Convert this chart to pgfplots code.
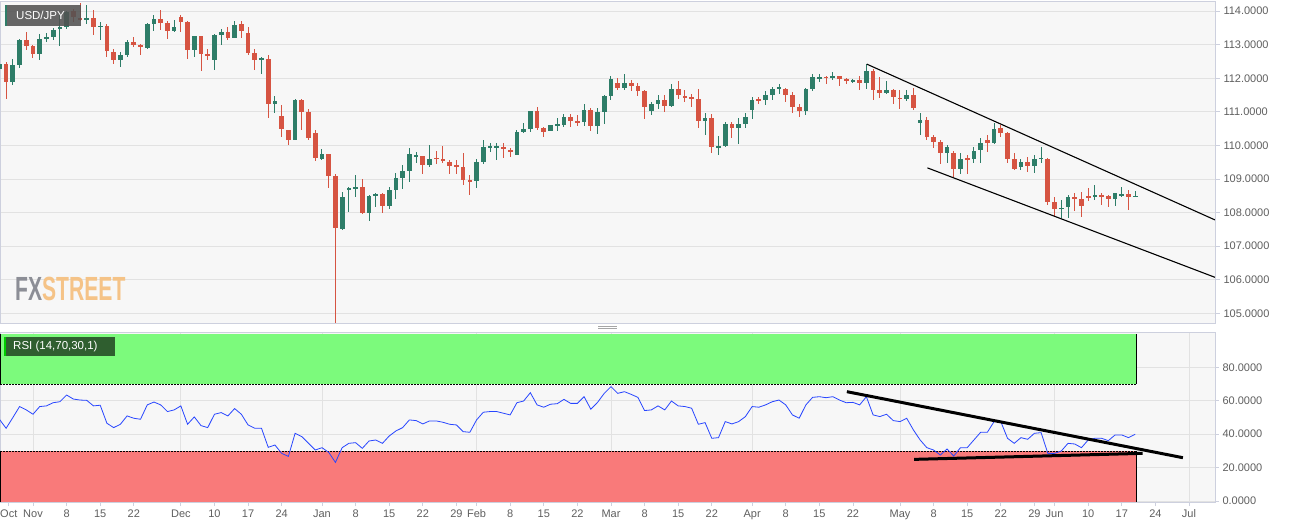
\documentclass[border=0pt]{standalone}
\usepackage{fontspec}
\setmainfont{Liberation Sans}
\usepackage{pgfplots}
\pgfplotsset{compat=1.18}
\usepackage{pgfplotstable}

\definecolor{upc}{RGB}{46,125,104}
\definecolor{dnc}{RGB}{214,84,66}
\definecolor{bgc}{RGB}{247,247,247}
\definecolor{gridc}{RGB}{226,226,226}
\definecolor{axc}{RGB}{205,208,222}
\definecolor{tickc}{RGB}{95,95,95}
\definecolor{rsigreen}{RGB}{124,250,124}
\definecolor{rsired}{RGB}{249,122,122}
\definecolor{rsiline}{RGB}{40,70,255}
\definecolor{rsibox}{RGB}{47,94,47}
\definecolor{fxgray}{RGB}{140,142,150}
\definecolor{fxorange}{RGB}{245,195,135}

% green (up) candles: index o h l c
\pgfplotstableread{
i o h l c
-5 112.28 112.68 111.84 112.43
-3 111.89 112.58 111.79 112.38
-2 112.38 113.18 112.32 113.13
1 112.73 113.33 112.55 113.18
2 113.18 113.35 113.08 113.23
3 113.23 113.50 113.13 113.45
4 113.47 113.87 112.95 113.52
5 113.52 114.00 113.47 113.97
8 113.76 114.17 113.62 113.78
10 113.53 113.67 113.13 113.57
13 112.55 112.78 112.33 112.68
14 112.68 113.13 112.63 113.08
17 112.90 113.64 112.88 113.62
18 113.62 113.87 113.42 113.77
21 113.41 113.72 113.38 113.52
24 112.85 113.25 112.63 113.25
27 112.55 113.33 112.26 113.28
28 113.28 113.48 112.98 113.38
30 113.20 113.70 113.20 113.60
34 112.57 112.63 112.12 112.59
36 111.22 111.46 110.95 111.32
39 110.17 111.39 110.15 111.36
43 109.61 109.88 109.58 109.74
46 107.51 108.62 107.47 108.47
47 108.67 108.77 108.02 108.72
48 108.72 109.11 108.45 108.77
50 108.00 108.52 107.75 108.49
51 108.50 108.59 108.15 108.55
53 108.20 108.77 108.12 108.67
54 108.67 109.19 108.39 109.02
55 109.02 109.43 108.69 109.23
56 109.23 109.91 108.92 109.74
57 109.68 109.79 109.48 109.70
59 109.42 110.00 109.36 109.61
66 108.93 109.59 108.72 109.51
67 109.51 110.17 109.44 109.94
68 109.94 110.08 109.79 109.96
69 109.94 110.06 109.56 109.96
72 109.71 110.45 109.71 110.39
73 110.40 110.67 110.37 110.48
74 110.48 111.03 110.40 111.01
77 110.43 110.60 110.43 110.60
78 110.59 110.83 110.43 110.63
79 110.61 110.95 110.54 110.85
82 110.70 111.24 110.57 111.05
84 110.57 111.10 110.35 111.00
85 111.00 111.51 110.65 111.46
86 111.46 112.07 111.34 111.97
88 111.71 112.14 111.64 111.87
92 111.03 111.29 110.90 111.22
93 111.22 111.49 111.07 111.36
95 111.17 111.84 111.15 111.69
100 110.72 110.97 110.30 110.82
102 109.95 110.27 109.71 109.98
103 109.98 110.70 109.94 110.63
105 110.52 110.83 110.04 110.63
106 110.63 110.95 110.52 110.85
107 111.05 111.44 110.80 111.34
109 111.34 111.61 111.20 111.51
110 111.51 111.74 111.34 111.68
111 111.69 111.84 111.54 111.72
115 111.02 111.71 110.92 111.68
116 111.68 112.14 111.61 112.03
117 111.99 112.12 111.89 112.04
119 112.02 112.19 111.94 112.06
122 111.90 111.99 111.86 111.94
124 111.87 112.41 111.69 112.21
127 111.56 111.91 111.52 111.66
130 111.37 111.66 111.32 111.49
132 110.67 110.97 110.30 110.75
136 109.78 110.01 109.48 109.94
138 109.31 109.78 109.14 109.61
140 109.61 109.96 109.48 109.84
141 109.86 110.21 109.48 110.08
143 110.08 110.68 110.04 110.50
147 109.35 109.59 109.27 109.50
149 109.40 109.72 109.17 109.60
150 109.60 109.94 109.47 109.63
153 108.10 108.36 107.83 108.15
154 108.15 108.52 107.83 108.47
158 108.47 108.82 108.37 108.52
161 108.40 108.59 108.18 108.57
162 108.52 108.75 108.47 108.55
164 108.47 108.64 108.45 108.50
}\upcandles

% red (down) candles: index o h l c
\pgfplotstableread{
i o h l c
-4 112.43 112.48 111.39 111.89
-1 113.13 113.38 112.83 112.96
0 112.95 113.00 112.61 112.73
6 114.00 114.07 113.67 113.82
7 113.78 114.24 113.72 113.76
9 113.78 114.02 113.30 113.52
11 113.57 113.62 112.63 112.81
12 112.78 112.88 112.43 112.55
15 113.08 113.23 112.93 112.98
16 112.98 113.03 112.68 112.95
19 113.77 114.04 113.44 113.64
20 113.64 113.72 113.18 113.41
22 113.82 113.87 113.38 113.67
23 113.67 113.70 112.58 112.85
25 113.25 113.25 112.22 112.71
26 112.73 112.88 112.55 112.65
29 113.38 113.54 113.13 113.20
31 113.60 113.70 113.21 113.40
32 113.35 113.52 112.68 112.75
33 112.75 112.88 112.26 112.55
35 112.57 112.68 110.83 111.22
37 110.87 111.20 110.25 110.50
38 110.47 110.47 110.00 110.17
40 111.34 111.39 110.47 111.00
41 111.00 111.07 110.17 110.23
42 110.37 110.45 109.54 109.61
44 109.74 109.74 108.72 109.08
45 109.08 109.14 104.72 107.53
49 108.77 109.01 107.97 108.00
52 108.54 108.59 108.00 108.20
58 109.69 109.69 109.14 109.42
60 109.63 109.83 109.44 109.60
61 109.60 109.98 109.48 109.52
62 109.52 109.58 109.16 109.39
63 109.40 109.56 109.14 109.38
64 109.36 109.76 108.82 108.97
65 108.97 109.11 108.52 108.93
70 109.96 110.08 109.61 109.88
71 109.87 109.91 109.64 109.81
75 111.01 111.13 110.45 110.51
76 110.52 110.55 110.25 110.41
80 110.85 110.93 110.55 110.74
81 110.72 110.92 110.57 110.68
83 111.05 111.10 110.42 110.57
87 111.87 112.01 111.64 111.71
89 111.86 111.94 111.62 111.76
90 111.76 111.86 111.47 111.62
91 111.62 111.66 110.78 111.15
94 111.36 111.49 111.00 111.17
96 111.69 111.91 111.37 111.49
97 111.47 111.64 111.29 111.44
98 111.44 111.54 111.15 111.41
99 111.39 111.69 110.53 110.72
101 110.82 110.92 109.76 109.94
104 110.63 110.70 110.23 110.52
108 111.38 111.44 111.24 111.34
112 111.69 111.72 111.29 111.49
113 111.49 111.59 110.97 111.15
114 111.15 111.24 110.85 111.02
118 112.04 112.06 111.84 112.01
120 112.06 112.06 111.76 111.99
121 111.99 112.02 111.84 111.91
123 111.94 112.06 111.65 111.87
125 112.21 112.26 111.34 111.64
126 111.64 112.04 111.42 111.57
128 111.66 111.69 111.24 111.44
129 111.42 111.64 111.07 111.39
131 111.51 111.72 111.05 111.10
133 110.77 110.85 110.17 110.25
134 110.25 110.32 109.91 110.10
135 110.09 110.15 109.46 109.78
137 109.78 109.83 109.06 109.31
139 109.61 109.71 109.16 109.58
142 110.15 110.30 109.81 110.08
144 110.51 110.61 110.24 110.38
145 110.36 110.41 109.47 109.61
146 109.61 109.76 109.27 109.30
148 109.50 109.64 109.22 109.40
151 109.61 109.63 108.23 108.30
152 108.30 108.47 107.88 108.10
155 108.47 108.59 108.05 108.41
156 108.40 108.62 107.88 108.21
157 108.49 108.72 108.33 108.45
159 108.52 108.59 108.23 108.49
160 108.50 108.52 108.16 108.40
163 108.55 108.67 108.08 108.45
}\dncandles

% RSI(14)
\pgfplotstableread{
i r
-5 48.9
-4 43.5
-3 49.9
-2 56.5
-1 54.5
0 51.9
1 56.5
2 56.9
3 58.8
4 59.4
5 63.4
6 61.0
7 60.4
8 60.2
9 56.9
10 57.3
11 46.5
12 43.9
13 45.9
14 50.9
15 49.5
16 48.9
17 57.5
18 59.2
19 57.5
20 53.5
21 54.5
22 56.9
23 45.9
24 50.3
25 45.1
26 43.9
27 51.9
28 52.9
29 50.9
30 55.3
31 51.9
32 45.5
33 43.5
34 43.5
35 32.1
36 33.5
37 28.5
38 26.7
39 40.5
40 38.5
41 34.5
42 30.5
43 31.9
44 29.1
45 23.1
46 31.9
47 34.5
48 34.9
49 31.5
50 35.9
51 36.5
52 34.5
53 38.9
54 41.9
55 43.9
56 48.5
57 48.1
58 46.1
59 47.9
60 47.9
61 47.1
62 45.9
63 45.5
64 41.5
65 41.1
66 48.5
67 53.1
68 53.5
69 53.5
70 52.5
71 51.5
72 58.8
73 59.8
74 64.8
75 57.5
76 56.1
77 57.9
78 58.2
79 60.8
80 58.4
81 58.4
82 62.4
83 54.9
84 59.0
85 64.4
86 68.4
87 64.4
88 65.4
89 63.8
90 62.0
91 54.1
92 54.5
93 56.9
94 54.5
95 59.8
96 56.9
97 56.5
98 55.5
99 45.9
100 46.9
101 37.5
102 37.9
103 47.5
104 46.1
105 47.5
106 50.5
107 56.5
108 56.1
109 57.5
110 59.4
111 60.4
112 57.5
113 51.5
114 49.5
115 57.5
116 62.0
117 62.4
118 61.8
119 62.4
120 60.4
121 58.8
122 59.0
123 57.5
124 62.4
125 51.5
126 50.5
127 51.9
128 48.1
129 47.5
130 49.5
131 42.5
132 36.5
133 31.9
134 30.5
135 27.5
136 31.1
137 26.9
138 31.9
139 31.9
140 36.5
141 41.1
142 41.1
143 47.5
144 47.5
145 37.5
146 34.5
147 37.9
148 36.9
149 40.5
150 40.9
151 28.5
152 28.5
153 29.9
154 34.5
155 34.1
156 31.9
157 36.5
158 37.5
159 37.5
160 36.1
161 39.5
162 39.5
163 37.9
164 39.9
}\rsitable

\pgfplotsset{
  panel/.style={
    scale only axis, anchor=south west, width=1215pt,
    xmin=-4.91, xmax=175.87,
    axis background/.style={fill=bgc},
    axis line style={draw=axc, line width=0.8pt},
    minor xtick={0,22,43,66,86,107,129,152,172},
    xminorgrids, minor x grid style={gridc, line width=0.8pt},
    minor tick length=0pt,
    ymajorgrids, major grid style={gridc, line width=0.8pt},
    ytick pos=right, yticklabel pos=right,
    tick align=outside, major tick length=5pt,
    tick style={axc, line width=0.8pt},
    yticklabel style={font=\fontsize{11}{13}\selectfont, text=tickc, anchor=west},
    xticklabel style={font=\fontsize{11}{13}\selectfont, text=tickc},
  },
  wick/.style={draw=none, mark=none, forget plot,
    error bars/.cd, y dir=both, y explicit, error mark=none,
    error bar style={draw=#1, line width=1pt}},
  body/.style={draw=none, mark=none, forget plot,
    error bars/.cd, y dir=both, y explicit, error mark=none,
    error bar style={draw=#1, line width=4.7pt}},
}

\begin{document}
\begin{tikzpicture}
\path[use as bounding box, fill=white] (0pt,0pt) rectangle (1299pt,528pt);

% ---------- price panel ----------
\begin{axis}[panel,
  at={(0pt,205pt)}, height=322pt,
  ymin=104.71, ymax=114.30,
  xtick=\empty,
  ytick={105,106,107,108,109,110,111,112,113,114},
  yticklabels={105.0000,106.0000,107.0000,108.0000,109.0000,110.0000,111.0000,112.0000,113.0000,114.0000},
]
\addplot[wick=upc] table[x=i, y expr=(\thisrow{h}+\thisrow{l})/2, y error expr=(\thisrow{h}-\thisrow{l})/2] {\upcandles};
\addplot[wick=dnc] table[x=i, y expr=(\thisrow{h}+\thisrow{l})/2, y error expr=(\thisrow{h}-\thisrow{l})/2] {\dncandles};
\addplot[body=upc] table[x=i, y expr=(\thisrow{o}+\thisrow{c})/2, y error expr={max(abs(\thisrow{c}-\thisrow{o})/2,0.02)}] {\upcandles};
\addplot[body=dnc] table[x=i, y expr=(\thisrow{o}+\thisrow{c})/2, y error expr={max(abs(\thisrow{c}-\thisrow{o})/2,0.02)}] {\dncandles};
% falling channel
\addplot[black, line width=1.1pt] coordinates {(124.06,112.42) (175.87,107.78)};
\addplot[black, line width=1.1pt] coordinates {(133.08,109.33) (175.87,106.07)};
\end{axis}

% ---------- RSI panel ----------
\begin{axis}[panel,
  at={(0pt,26pt)}, height=170pt,
  ymin=-0.6, ymax=101.1,
  ytick={0,20,40,60,80},
  yticklabels={0.0000,20.0000,40.0000,60.0000,80.0000},
  xtick pos=bottom, major tick length=4pt,
  xtick={-3.6,0,5,10,15,22,27,32,37,43,48,53,58,63,66,71,76,81,86,91,96,101,107,112,117,122,129,134,139,144,149,152,157,162,167,172},
  xticklabels={Oct,Nov,8,15,22,Dec,10,17,24,Jan,8,15,22,29,Feb,8,15,22,Mar,8,15,22,Apr,8,15,22,May,8,15,22,29,Jun,10,17,24,Jul},
]
\addplot[fill=rsigreen, draw=none] coordinates {(-4.91,70) (164.1,70) (164.1,99.8) (-4.91,99.8)} --cycle;
\addplot[fill=rsired, draw=none] coordinates {(-4.91,-0.6) (164.1,-0.6) (164.1,30) (-4.91,30)} --cycle;
\addplot[black, line width=0.7pt] coordinates {(-4.85,99.8) (-4.85,70)};
\addplot[black, line width=0.7pt] coordinates {(164.1,99.8) (164.1,70)};
\addplot[black, line width=0.7pt] coordinates {(-4.85,30) (-4.85,-0.6)};
\addplot[black, line width=0.7pt] coordinates {(164.1,30) (164.1,-0.6)};
\addplot[black, line width=0.7pt, dash pattern=on 2pt off 1pt] coordinates {(-4.91,70) (164.1,70)};
\addplot[black, line width=0.7pt, dash pattern=on 2pt off 1pt] coordinates {(-4.91,30) (164.1,30)};
\addplot[rsiline, line width=0.8pt] table[x=i, y=r] {\rsitable};
\addplot[black, line width=3pt] coordinates {(121.1,65.4) (171.1,25.9)};
\addplot[black, line width=3pt] coordinates {(131.1,24.9) (165.1,28.5)};
\end{axis}

% labels and decorations
\fill[black!68, opacity=0.88] (5pt,523pt) rectangle (81pt,502pt);
\fill[upc] (5pt,523pt) rectangle (7pt,502pt);
\node[anchor=west, inner sep=0pt, text=white, font=\fontsize{11.5}{13}\selectfont] at (16pt,512.5pt) {USD/JPY};

\fill[rsibox] (4pt,191pt) rectangle (115pt,172pt);
\fill[green!80!black] (4pt,191pt) rectangle (6pt,172pt);
\node[anchor=west, inner sep=0pt, text=white, font=\fontsize{11.5}{13}\selectfont] at (13pt,181.5pt) {RSI (14,70,30,1)};

\node[anchor=west, inner sep=0pt] at (15pt,239pt) {\scalebox{0.63}[1]{\fontsize{33.5}{34}\selectfont\bfseries\textcolor{fxgray}{FX}\textcolor{fxorange}{STREET}}};

\draw[gray!70, line width=0.8pt] (598pt,202pt) -- (617pt,202pt);
\draw[gray!70, line width=0.8pt] (598pt,199.3pt) -- (617pt,199.3pt);
\end{tikzpicture}
\end{document}
